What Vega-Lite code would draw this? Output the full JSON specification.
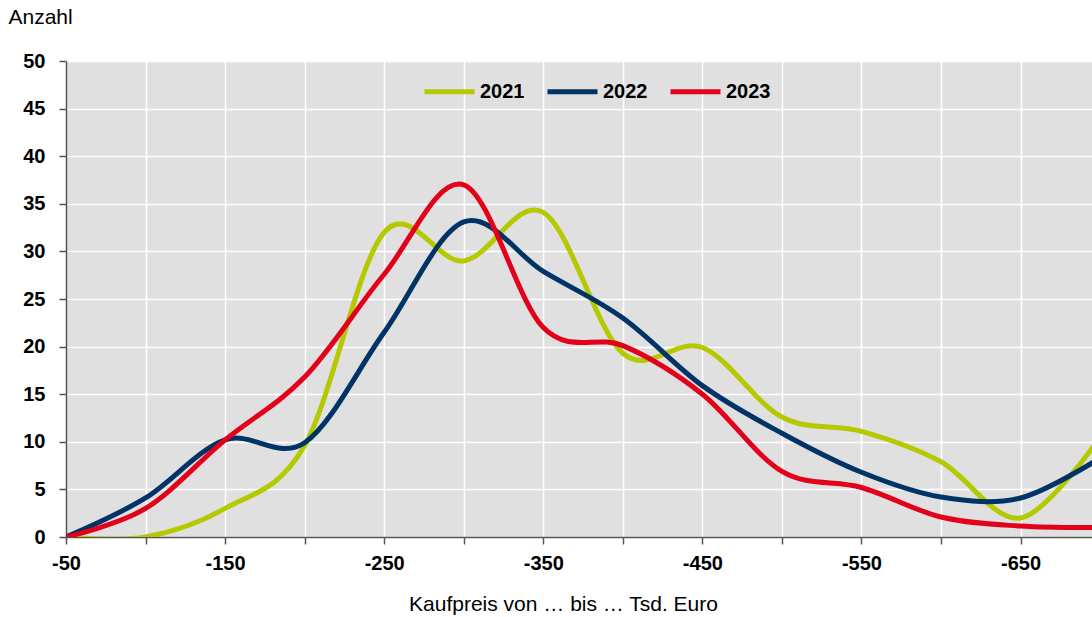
{
  "$schema": "https://vega.github.io/schema/vega-lite/v6.json",
  "width": 1026,
  "height": 476,
  "autosize": {"type": "none"},
  "padding": {"left": 66, "top": 61, "right": 0, "bottom": 80},
  "background": "white",
  "config": {
    "font": "Liberation Sans",
    "view": {"fill": "#e0e0e0", "stroke": null},
    "axis": {
      "domainColor": "#555555",
      "domainWidth": 1.5,
      "tickColor": "#555555",
      "tickWidth": 1.5,
      "tickSize": 7,
      "gridColor": "#ffffff",
      "gridWidth": 1.5,
      "gridOpacity": 1,
      "labelFontSize": 20,
      "labelFontWeight": "bold",
      "labelColor": "#000000",
      "labelFlush": false,
      "labelOverlap": false,
      "titleFontSize": 21,
      "titleFontWeight": "normal",
      "titleColor": "#000000"
    }
  },
  "data": {
    "values": [
      {"bis": 50, "jahr": "2021", "anzahl": 0},
      {"bis": 100, "jahr": "2021", "anzahl": 0},
      {"bis": 150, "jahr": "2021", "anzahl": 3},
      {"bis": 200, "jahr": "2021", "anzahl": 9.6},
      {"bis": 250, "jahr": "2021", "anzahl": 32.0},
      {"bis": 300, "jahr": "2021", "anzahl": 29},
      {"bis": 350, "jahr": "2021", "anzahl": 34.1},
      {"bis": 400, "jahr": "2021", "anzahl": 19.3},
      {"bis": 450, "jahr": "2021", "anzahl": 19.9},
      {"bis": 500, "jahr": "2021", "anzahl": 12.6},
      {"bis": 550, "jahr": "2021", "anzahl": 11.1},
      {"bis": 600, "jahr": "2021", "anzahl": 7.9},
      {"bis": 650, "jahr": "2021", "anzahl": 2.0},
      {"bis": 700, "jahr": "2021", "anzahl": 10.5},
      {"bis": 50, "jahr": "2022", "anzahl": 0},
      {"bis": 100, "jahr": "2022", "anzahl": 4.1},
      {"bis": 150, "jahr": "2022", "anzahl": 10.2},
      {"bis": 200, "jahr": "2022", "anzahl": 9.9},
      {"bis": 250, "jahr": "2022", "anzahl": 21.5},
      {"bis": 300, "jahr": "2022", "anzahl": 33.1},
      {"bis": 350, "jahr": "2022", "anzahl": 27.9},
      {"bis": 400, "jahr": "2022", "anzahl": 23},
      {"bis": 450, "jahr": "2022", "anzahl": 15.9},
      {"bis": 500, "jahr": "2022", "anzahl": 10.9},
      {"bis": 550, "jahr": "2022", "anzahl": 6.8},
      {"bis": 600, "jahr": "2022", "anzahl": 4.2},
      {"bis": 650, "jahr": "2022", "anzahl": 4.1},
      {"bis": 700, "jahr": "2022", "anzahl": 8.3},
      {"bis": 50, "jahr": "2023", "anzahl": 0},
      {"bis": 100, "jahr": "2023", "anzahl": 3.0},
      {"bis": 150, "jahr": "2023", "anzahl": 10.2},
      {"bis": 200, "jahr": "2023", "anzahl": 16.8},
      {"bis": 250, "jahr": "2023", "anzahl": 27.6},
      {"bis": 300, "jahr": "2023", "anzahl": 37},
      {"bis": 350, "jahr": "2023", "anzahl": 22.0},
      {"bis": 400, "jahr": "2023", "anzahl": 20.1},
      {"bis": 450, "jahr": "2023", "anzahl": 15},
      {"bis": 500, "jahr": "2023", "anzahl": 6.9},
      {"bis": 550, "jahr": "2023", "anzahl": 5.2},
      {"bis": 600, "jahr": "2023", "anzahl": 2.1},
      {"bis": 650, "jahr": "2023", "anzahl": 1.15},
      {"bis": 700, "jahr": "2023", "anzahl": 1.0}
    ]
  },
  "mark": {"type": "line", "interpolate": "cardinal", "strokeWidth": 5, "clip": true, "strokeCap": "round"},
  "encoding": {
    "x": {
      "field": "bis",
      "type": "quantitative",
      "scale": {"domain": [50, 694.9], "nice": false, "zero": false},
      "axis": {
        "values": [50, 100, 150, 200, 250, 300, 350, 400, 450, 500, 550, 600, 650],
        "labelExpr": "datum.value % 100 == 50 ? '-' + datum.value : ''",
        "labelPadding": 9,
        "title": "Kaufpreis von … bis … Tsd. Euro",
        "titleAlign": "center",
        "titleBaseline": "alphabetic",
        "titleX": 497,
        "titleY": 73
      }
    },
    "y": {
      "field": "anzahl",
      "type": "quantitative",
      "scale": {"domain": [0, 50], "nice": false},
      "axis": {
        "values": [0, 5, 10, 15, 20, 25, 30, 35, 40, 45, 50],
        "labelPadding": 14,
        "title": "Anzahl",
        "titleAngle": 0,
        "titleAlign": "left",
        "titleBaseline": "alphabetic",
        "titleX": -58,
        "titleY": -37.5
      }
    },
    "color": {
      "field": "jahr",
      "type": "nominal",
      "scale": {"domain": ["2021", "2022", "2023"], "range": ["#b5c900", "#003366", "#e2001a"]},
      "legend": {
        "orient": "none",
        "legendX": 356,
        "legendY": 3,
        "direction": "horizontal",
        "title": null,
        "symbolType": "stroke",
        "symbolSize": 2500,
        "symbolStrokeWidth": 5,
        "labelFontSize": 20,
        "labelFontWeight": "bold",
        "labelColor": "#000000",
        "labelOffset": 3,
        "columnPadding": 12
      }
    }
  }
}
